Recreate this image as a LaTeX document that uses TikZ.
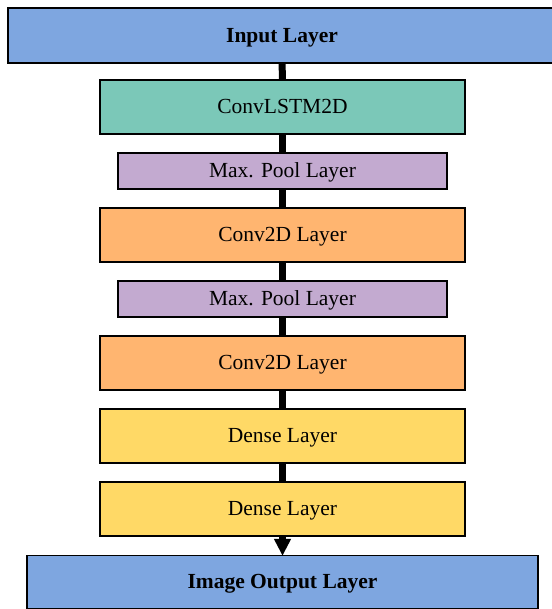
\documentclass[tikz,border=0pt]{standalone}
\usepackage{fontspec}
\setmainfont{Liberation Serif}
\usetikzlibrary{arrows.meta}

\definecolor{inblue}{HTML}{7EA6E0}
\definecolor{lstmgreen}{HTML}{7BC8B8}
\definecolor{poolpurple}{HTML}{C3AAD0}
\definecolor{convorange}{HTML}{FFB570}
\definecolor{denseyellow}{HTML}{FFD966}

\tikzset{
	layer/.style={draw=black, line width=1.3pt, inner sep=0pt, text depth=1pt, font=\fontsize{21.5}{24}\selectfont},
	wide/.style={layer, minimum width=365pt, minimum height=54pt},
	thin/.style={layer, minimum width=329pt, minimum height=36pt},
	conn/.style={line width=7pt}
}

\begin{document}
\begin{tikzpicture}[x=1pt,y=-1pt]
	\useasboundingbox (0,0) rectangle (551,609);
	
	%input / output
	\node[layer, fill=inblue, minimum width=548pt, minimum height=55pt, font=\fontsize{21.5}{24}\selectfont\bfseries] (inp) at (282,35.5){Input Layer};
	\node[layer, fill=inblue, minimum width=511pt, minimum height=53pt, font=\fontsize{21.5}{24}\selectfont\bfseries] (out) at (282.5,582){Image Output Layer};
	
	%hidden layers
	\node[wide, fill=lstmgreen] (lstm) at (282.5,107){ConvLSTM2D};
	\node[thin, fill=poolpurple] (pool1) at (282.5,171){Max. Pool Layer};
	\node[wide, fill=convorange] (conv1) at (282.5,235){Conv2D Layer};
	\node[thin, fill=poolpurple] (pool2) at (282.5,299){Max. Pool Layer};
	\node[wide, fill=convorange] (conv2) at (282.5,363){Conv2D Layer};
	\node[wide, fill=denseyellow] (dense1) at (282.5,436){Dense Layer};
	\node[wide, fill=denseyellow] (dense2) at (282.5,509){Dense Layer};
	
	\draw[conn] (inp) -- (lstm);
	\draw[conn] (lstm) -- (pool1);
	\draw[conn] (pool1) -- (conv1);
	\draw[conn] (conv1) -- (pool2);
	\draw[conn] (pool2) -- (conv2);
	\draw[conn] (conv2) -- (dense1);
	\draw[conn] (dense1) -- (dense2);
	\draw[conn, -{Triangle[width=16pt, length=17pt]}, shorten >=-1pt] (dense2) -- (out);
	
\end{tikzpicture}
\end{document}
